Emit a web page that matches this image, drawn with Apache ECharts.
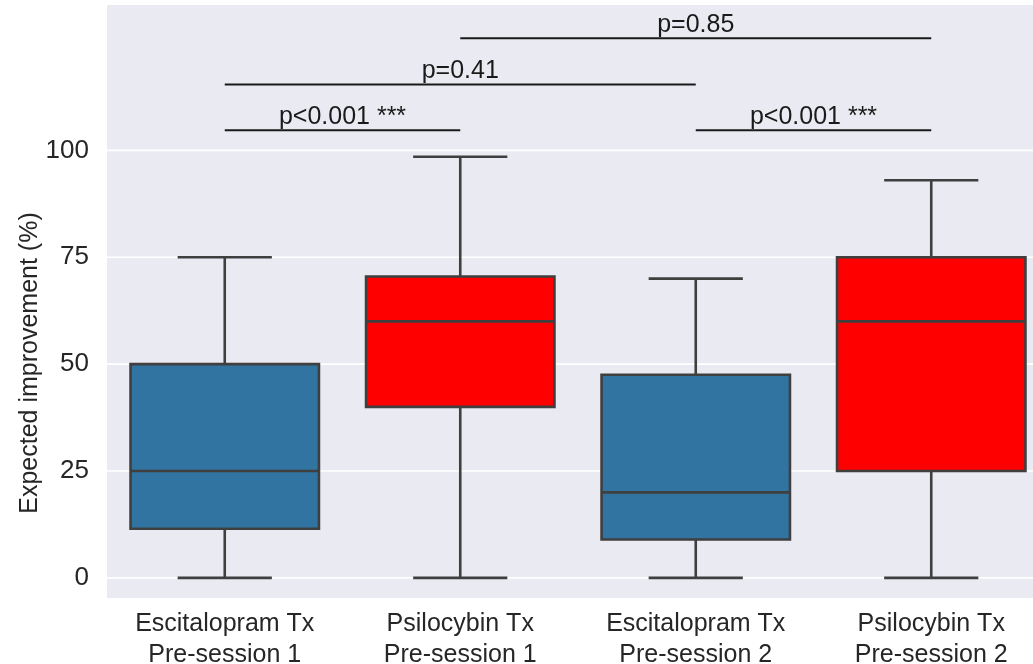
<!DOCTYPE html>
<html>
<head>
<meta charset="utf-8">
<script src="https://cdn.jsdelivr.net/npm/echarts@6/dist/echarts.min.js"></script>
<style>
  html, body { margin: 0; padding: 0; background: #ffffff; overflow: hidden; }
  #chart { width: 1049px; height: 664px; }
</style>
</head>
<body>
<div id="chart"></div>
<script>
// Groups along the x axis
const categories = [
  'Escitalopram Tx\nPre-session 1',
  'Psilocybin Tx\nPre-session 1',
  'Escitalopram Tx\nPre-session 2',
  'Psilocybin Tx\nPre-session 2'
];

// Five-number summaries per group: [lower whisker, Q1, median, Q3, upper whisker]
const escitalopramPre1 = [0, 11.5, 25, 50, 75];
const psilocybinPre1   = [0, 40, 60, 70.5, 98.5];
const escitalopramPre2 = [0, 9, 20, 47.5, 70];
const psilocybinPre2   = [0, 25, 60, 75, 93];

// Pairwise comparisons: [group A index, group B index, bracket height, label]
const comparisons = [
  [0, 1, 104.7, 'p<0.001 ***'],
  [2, 3, 104.7, 'p<0.001 ***'],
  [0, 2, 115.4, 'p=0.41'],
  [1, 3, 126.2, 'p=0.85']
];

// Y tick labels
const yTicks = [0, 25, 50, 75, 100];

const boxColors = ['#3274A1', '#FF0000', '#3274A1', '#FF0000'];
const edgeColor = '#3F3F3F';
const FONT = '"Liberation Sans", Arial, sans-serif';

const boxData = [escitalopramPre1, psilocybinPre1, escitalopramPre2, psilocybinPre2]
  .map((s, i) => [i].concat(s));

const chart = echarts.init(document.getElementById('chart'), null, { renderer: 'canvas' });

function renderBox(params, api) {
  const i = api.value(0);
  const bw = api.size([1, 0])[0] * 0.8;
  const half = bw / 2;
  const cap = bw / 4;
  const lo = api.coord([i, api.value(1)]);
  const q1 = api.coord([i, api.value(2)]);
  const md = api.coord([i, api.value(3)]);
  const q3 = api.coord([i, api.value(4)]);
  const hi = api.coord([i, api.value(5)]);
  const cx = lo[0];
  const ls = { stroke: edgeColor, lineWidth: 2.6 };
  return {
    type: 'group',
    children: [
      { type: 'line', shape: { x1: cx, y1: q1[1], x2: cx, y2: lo[1] }, style: ls },
      { type: 'line', shape: { x1: cx, y1: q3[1], x2: cx, y2: hi[1] }, style: ls },
      { type: 'line', shape: { x1: cx - cap, y1: lo[1], x2: cx + cap, y2: lo[1] }, style: ls },
      { type: 'line', shape: { x1: cx - cap, y1: hi[1], x2: cx + cap, y2: hi[1] }, style: ls },
      { type: 'rect', shape: { x: cx - half, y: q3[1], width: bw, height: q1[1] - q3[1] },
        style: { fill: boxColors[i], stroke: edgeColor, lineWidth: 2.6 } },
      { type: 'line', shape: { x1: cx - half, y1: md[1], x2: cx + half, y2: md[1] }, style: ls }
    ]
  };
}

function renderGridLine(params, api) {
  const cs = params.coordSys;
  const y = api.coord([0, api.value(0)])[1];
  return {
    type: 'line',
    shape: { x1: cs.x, y1: y, x2: cs.x + cs.width, y2: y },
    style: { stroke: '#FFFFFF', lineWidth: 1.6 }
  };
}

function renderComparison(params, api) {
  const a = api.coord([api.value(0), api.value(2)]);
  const b = api.coord([api.value(1), api.value(2)]);
  const label = comparisons[params.dataIndex][3];
  return {
    type: 'group',
    children: [
      { type: 'line', shape: { x1: a[0], y1: a[1], x2: b[0], y2: b[1] },
        style: { stroke: '#1A1A1A', lineWidth: 2 } },
      { type: 'text', x: (a[0] + b[0]) / 2, y: a[1] - 1,
        style: { text: label, fill: '#1A1A1A', font: '25px ' + FONT,
                 align: 'center', verticalAlign: 'bottom' } }
    ]
  };
}

chart.setOption({
  animation: false,
  backgroundColor: '#FFFFFF',
  grid: {
    left: 107, right: 0, top: 5, bottom: 66,
    outerBoundsMode: 'none',
    containLabel: false,
    show: true, backgroundColor: '#EAEAF2', borderWidth: 0
  },
  graphic: [{
    type: 'text',
    x: 30, y: 363,
    rotation: Math.PI / 2,
    style: {
      text: 'Expected improvement (%)',
      fill: '#262626', font: '25px ' + FONT,
      align: 'center', verticalAlign: 'middle'
    }
  }],
  xAxis: {
    type: 'category',
    data: categories,
    boundaryGap: true,
    axisLine: { show: false },
    axisTick: { show: false },
    splitLine: { show: false },
    axisLabel: {
      color: '#262626', fontSize: 25, fontFamily: FONT,
      lineHeight: 31, margin: 11, interval: 0
    }
  },
  yAxis: {
    type: 'value',
    min: -4.7, max: 134,
    axisLine: { show: false },
    axisTick: { show: false },
    splitLine: { show: false },
    axisLabel: {
      customValues: yTicks,
      color: '#262626', fontSize: 26, fontFamily: FONT, margin: 18
    }
  },
  series: [
    {
      type: 'custom', z: 1, silent: true,
      renderItem: renderGridLine,
      data: yTicks.map(v => [v]),
      encode: { y: 0 }
    },
    {
      type: 'custom', z: 3, silent: true,
      renderItem: renderBox,
      data: boxData,
      encode: { x: 0, y: [1, 2, 3, 4, 5] }
    },
    {
      type: 'custom', z: 4, silent: true,
      renderItem: renderComparison,
      data: comparisons.map(c => [c[0], c[1], c[2]]),
      encode: { x: [0, 1], y: 2 }
    }
  ]
});
</script>
</body>
</html>
